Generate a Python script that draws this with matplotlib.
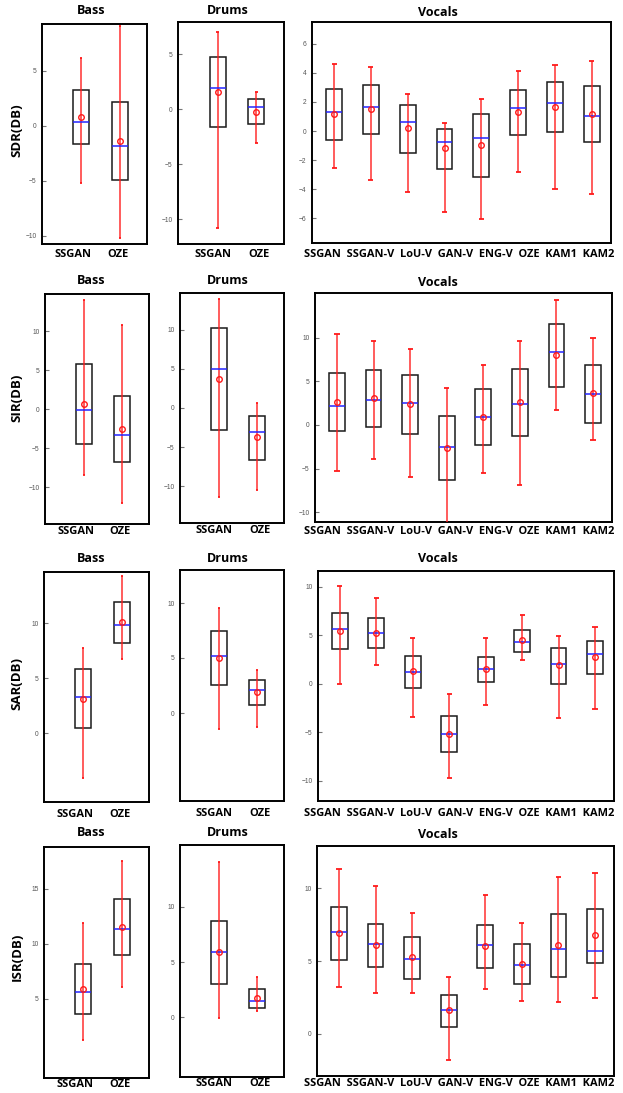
import matplotlib
matplotlib.use('Agg')
import matplotlib.pyplot as pl
import matplotlib.transforms as mtrans


# method names
pair_methods = ['SSGAN', 'OZE']
vocal_methods = ['SSGAN', 'SSGAN-V', 'LoU-V', 'GAN-V', 'ENG-V', 'OZE', 'KAM1', 'KAM2']

metrics = ['SDR(DB)', 'SIR(DB)', 'SAR(DB)', 'ISR(DB)']
sources = ['Bass', 'Drums', 'Vocals']

# each row: whisker low, q1, median, mean, q3, whisker high
sdr_bass = [[-5.24, -1.64, 0.36, 0.79, 3.27, 6.13],
            [-10.2, -4.96, -1.87, -1.36, 2.18, 9.06]]
sdr_drums = [[-10.79, -1.61, 1.96, 1.57, 4.73, 7.06],
             [-3.09, -1.34, 0.24, -0.25, 0.91, 1.55]]
sdr_vocals = [[-2.54, -0.60, 1.32, 1.19, 2.88, 4.62],
              [-3.38, -0.23, 1.67, 1.51, 3.18, 4.41],
              [-4.16, -1.53, 0.64, 0.21, 1.80, 2.52],
              [-5.56, -2.61, -0.78, -1.19, 0.16, 0.55],
              [-6.06, -3.13, -0.46, -0.96, 1.17, 2.19],
              [-2.83, -0.25, 1.60, 1.32, 2.83, 4.16],
              [-4.02, -0.09, 1.94, 1.67, 3.38, 4.53],
              [-4.30, -0.78, 1.01, 1.19, 3.09, 4.80]]

sir_bass = [[-8.42, -4.49, -0.13, 0.68, 5.85, 14.02],
            [-11.97, -6.79, -3.25, -2.48, 1.71, 10.77]]
sir_drums = [[-11.36, -2.85, 4.98, 3.70, 10.21, 13.96],
             [-10.43, -6.60, -3.06, -3.74, -0.98, 0.68]]
sir_vocals = [[-5.25, -0.72, 2.17, 2.66, 5.89, 10.42],
              [-3.84, -0.27, 2.81, 3.08, 6.31, 9.58],
              [-5.93, -1.03, 2.55, 2.36, 5.67, 8.67],
              [-12.0, -6.27, -2.47, -2.62, 0.99, 4.18],
              [-5.51, -2.24, 0.87, 0.95, 4.14, 6.88],
              [-6.81, -1.22, 2.40, 2.62, 6.43, 9.58],
              [1.67, 4.37, 8.33, 7.98, 11.52, 14.33],
              [-1.75, 0.23, 3.54, 3.65, 6.88, 9.96]]

sar_bass = [[-4.10, 0.49, 3.25, 3.13, 5.81, 7.72],
            [6.75, 8.21, 9.82, 10.12, 11.98, 14.38]]
sar_drums = [[-1.42, 2.52, 5.15, 5.00, 7.42, 9.58],
             [-1.24, 0.76, 2.09, 1.91, 3.00, 3.94]]
sar_vocals = [[0.00, 3.61, 5.67, 5.46, 7.29, 10.07],
              [1.92, 3.71, 5.26, 5.26, 6.74, 8.80],
              [-3.40, -0.41, 1.24, 1.27, 2.85, 4.74],
              [-9.73, -7.01, -5.19, -5.15, -3.33, -1.10],
              [-2.23, 0.17, 1.51, 1.51, 2.75, 4.67],
              [2.47, 3.30, 4.30, 4.47, 5.53, 7.08],
              [-3.57, 0.00, 2.06, 1.89, 3.71, 4.91],
              [-2.58, 1.03, 3.02, 2.78, 4.43, 5.84]]

isr_bass = [[1.30, 3.64, 5.61, 5.88, 8.15, 11.85],
            [6.09, 9.00, 11.33, 11.52, 14.03, 17.52]]
isr_drums = [[-0.03, 3.03, 5.91, 5.88, 8.76, 14.06],
             [0.61, 0.88, 1.52, 1.79, 2.58, 3.67]]
isr_vocals = [[3.21, 5.05, 7.02, 6.93, 8.74, 11.35],
              [2.80, 4.61, 6.19, 6.10, 7.57, 10.16],
              [2.80, 3.76, 5.11, 5.28, 6.67, 8.33],
              [-1.81, 0.48, 1.65, 1.61, 2.64, 3.90],
              [3.05, 4.54, 6.12, 6.06, 7.48, 9.54],
              [2.25, 3.39, 4.72, 4.82, 6.19, 7.61],
              [2.18, 3.88, 5.85, 6.10, 8.21, 10.80],
              [2.48, 4.86, 5.67, 6.77, 8.60, 11.03]]

panels = [[sdr_bass, sdr_drums, sdr_vocals],
          [sir_bass, sir_drums, sir_vocals],
          [sar_bass, sar_drums, sar_vocals],
          [isr_bass, isr_drums, isr_vocals]]

ylims = [[(-10.75, 9.25), (-12.25, 7.94), (-7.7, 7.5)],
         [(-14.7, 14.8), (-14.7, 14.7), (-11.1, 15.1)],
         [(-6.3, 14.7), (-8.0, 13.0), (-12.1, 11.6)],
         [(-2.2, 18.8), (-5.4, 15.6), (-2.9, 12.9)]]
yticks = [[[-10, -5, 0, 5], [-10, -5, 0, 5], [-6, -4, -2, 0, 2, 4, 6]],
          [[-10, -5, 0, 5, 10], [-10, -5, 0, 5, 10], [-10, -5, 0, 5, 10]],
          [[0, 5, 10], [0, 5, 10], [-10, -5, 0, 5, 10]],
          [[5, 10, 15], [0, 5, 10], [0, 5, 10]]]


W, H = 623, 1093
fig = pl.figure(figsize=(W/100., H/100.), dpi=100)

# axes boxes in pixels: left, top, right, bottom
boxes = [[(42, 24, 147, 244), (178, 22, 284, 244), (312, 22, 611, 243)],
         [(45, 294, 149, 524), (180, 293, 284, 523), (315, 293, 612, 522)],
         [(44, 572, 149, 802), (180, 570, 284, 801), (318, 571, 614, 801)],
         [(44, 847, 149, 1078), (180, 845, 284, 1077), (317, 846, 614, 1076)]]
title_y = [[11, 11, 13], [281, 281, 283], [558, 558, 559], [833, 833, 835]]
title_x = [91, 228, 438]
ylab_y = [130, 398, 683, 957]
xlab_y = [255, 531, 814, 1084]
xlab_pad = [3.5, 1.5, 5, 1]
pair_shift = [[-8, -2], [-5, 3]]

bold = dict(family=['Open Sans', 'DejaVu Sans'], fontweight='bold')

for r in range(4):
    fig.text(17./W, 1-ylab_y[r]/float(H), metrics[r], rotation=90,
             ha='center', va='center', fontsize=9.5, **bold)
    for c in range(3):
        l, t, rr, b = boxes[r][c]
        ax = fig.add_axes([l/float(W), 1-b/float(H), (rr-l)/float(W), (b-t)/float(H)])
        stats = panels[r][c]
        if c == 2:
            names = vocal_methods
            bw, cw = 0.43, 0.07
            ax.set_xlim(0.40, 8.52)
        else:
            names = pair_methods
            bw, cw = 0.41, 0.03
            ax.set_xlim(-0.02, 2.71)
        pos = list(range(1, len(names)+1))
        lo = [s[0] for s in stats]
        q1 = [s[1] for s in stats]
        med = [s[2] for s in stats]
        mean = [s[3] for s in stats]
        q3 = [s[4] for s in stats]
        hi = [s[5] for s in stats]

        ax.bar(pos, [a-bb for a, bb in zip(q3, q1)], bottom=q1, width=bw,
               fill=False, edgecolor='#1a1a1a', linewidth=1.1, zorder=2)
        ax.vlines(pos, lo, hi, color='#ff1a1a', linewidth=1.1, alpha=0.9, zorder=3)
        ax.hlines(lo, [p-cw for p in pos], [p+cw for p in pos],
                  color='#ff1a1a', linewidth=1.3, zorder=3)
        ax.hlines(hi, [p-cw for p in pos], [p+cw for p in pos],
                  color='#ff1a1a', linewidth=1.3, zorder=3)
        ax.hlines(med, [p-bw/2 for p in pos], [p+bw/2 for p in pos],
                  color='#2424ff', linewidth=1.1, zorder=4)
        ax.plot(pos, mean, 'o', mfc='none', mec='#ff1a1a', ms=4, mew=1.0, zorder=5)

        ax.set_ylim(*ylims[r][c])
        ax.set_yticks(yticks[r][c])
        ax.tick_params(axis='y', direction='in', length=3, width=0.8,
                       color='#777777', labelcolor='#555555', labelsize=4.8, pad=4)
        for lab in ax.get_yticklabels():
            lab.set_family(['Liberation Sans', 'DejaVu Sans'])
        for sp in ax.spines.values():
            sp.set_linewidth(1.4)
            sp.set_color('black')

        if c == 2:
            ax.set_xticks(pos)
            ax.tick_params(axis='x', length=0, labelbottom=False)
            fig.text(304./W, 1-xlab_y[r]/float(H), '  '.join(names),
                     ha='left', va='center', fontsize=7.9, **bold)
        else:
            ax.set_xticks(pos)
            ax.set_xticklabels(names, fontsize=8, **bold)
            ax.tick_params(axis='x', length=0, pad=xlab_pad[r])
            for lab, dx in zip(ax.get_xticklabels(), pair_shift[c]):
                lab.set_transform(lab.get_transform() +
                                  mtrans.ScaledTranslation(dx/100., 0, fig.dpi_scale_trans))

        fig.text(title_x[c]/float(W), 1-title_y[r][c]/float(H), sources[c],
                 ha='center', va='center', fontsize=9, **bold)

pl.savefig('out.png', dpi=100)
